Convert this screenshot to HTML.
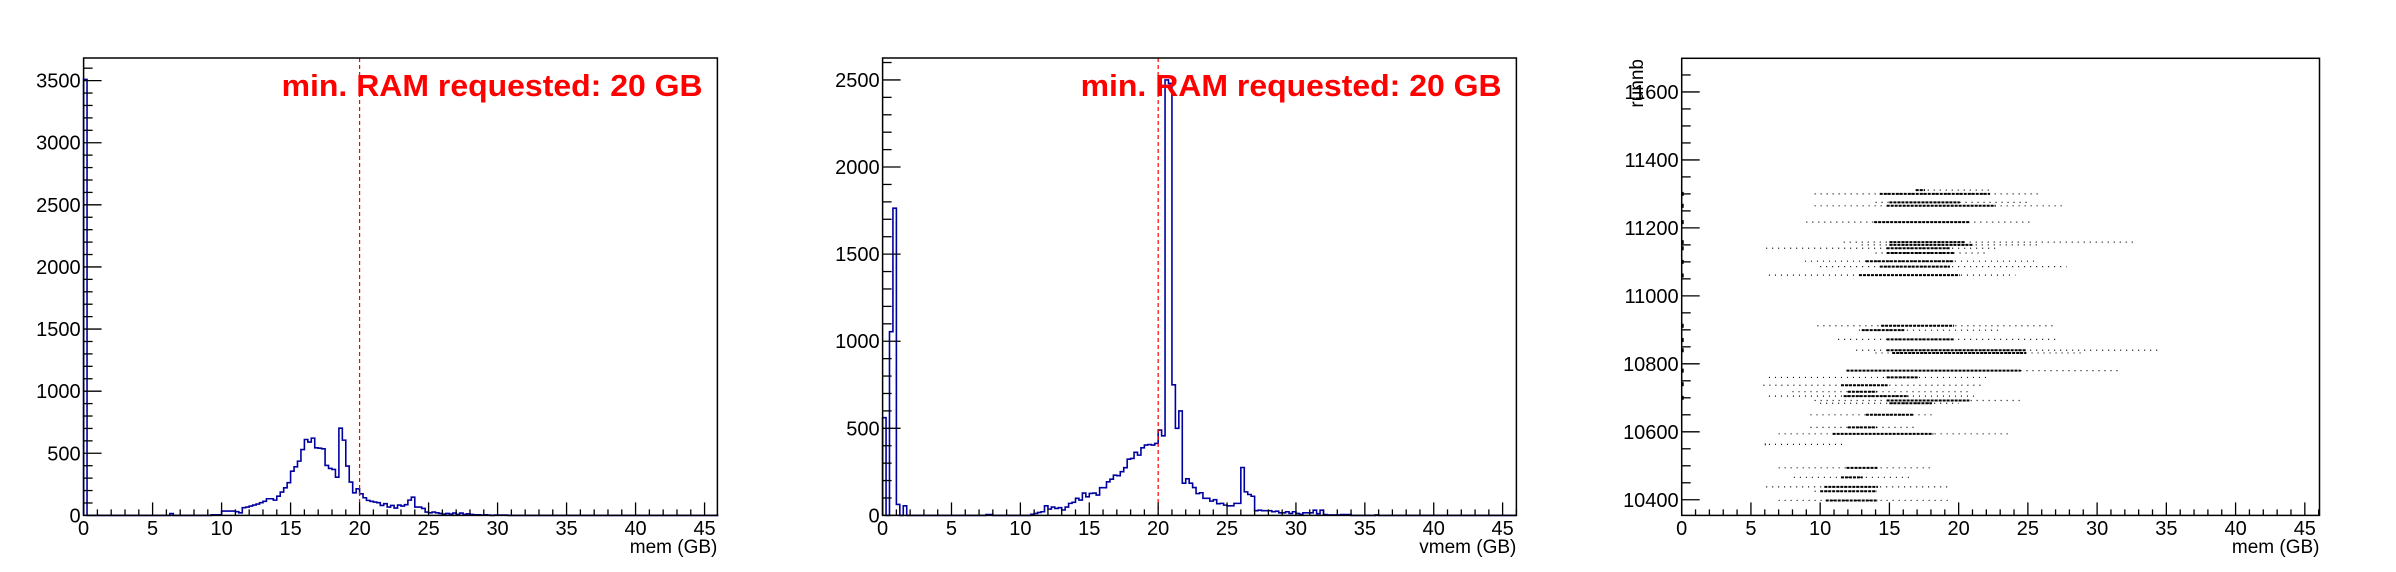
<!DOCTYPE html>
<html><head><meta charset="utf-8">
<style>
html,body{margin:0;padding:0;background:#fff;}
svg{display:block;font-family:"Liberation Sans",Arial,sans-serif;}
</style></head>
<body>
<svg id="fig" width="2396" height="572" viewBox="0 0 2396 572" xmlns="http://www.w3.org/2000/svg"></svg>
<script>
// ---- Panel 1: mem histogram (0.25 GB bins) ----
const memBinWidth = 0.25;
const memCounts = {0:3510,25:15,37:5,38:5,39:5,
40:35,41:35,42:35,43:35,44:30,45:21,46:62,47:67,48:75,49:83,50:91,51:102,52:113,53:134,54:134,55:123,56:155,57:188,58:222,59:263,
60:356,61:391,62:437,63:530,64:611,65:590,66:622,67:544,68:541,69:536,70:402,71:378,72:370,73:308,74:702,75:606,76:397,77:268,78:182,79:214,
80:174,81:142,82:121,83:113,84:107,85:102,86:80,87:94,88:67,89:80,90:59,91:83,92:75,93:86,94:123,95:147,96:67,97:67,98:56,99:27,
100:21,101:27,102:21,103:16,104:11,105:16,106:11,107:19,108:8,109:19,110:8,111:13,112:8,113:5,114:5,115:3,116:5,117:3,119:3,120:3,121:3,122:3};
// ---- Panel 2: vmem histogram ----
const vmemBinWidth = 0.25;
const vmemCounts = {0:561,2:1055,3:1764,4:63,6:55,30:5,31:5,
43:6,44:11,45:17,46:21,47:55,48:36,49:48,50:40,51:44,52:31,53:48,54:69,55:75,56:98,57:88,58:128,59:107,
60:126,61:128,62:117,63:159,64:159,65:193,66:208,67:231,68:228,69:251,70:274,71:323,72:327,73:362,74:346,75:388,76:404,77:407,78:404,79:413,
80:490,81:457,82:2500,83:2480,84:750,85:500,86:600,87:185,88:210,89:185,90:160,91:125,92:130,93:98,94:98,95:82,96:90,97:67,98:69,99:59,
100:55,101:55,102:69,103:69,104:275,105:135,106:120,107:110,108:27,109:30,110:27,111:27,112:27,113:21,114:24,115:15,116:15,117:21,118:11,119:21,
120:11,121:6,122:15,123:15,124:15,125:30,126:10,127:30,128:5,129:3,130:3,131:3,132:3,133:5,134:5,135:5,143:3};
// ---- Panel 3: runnb vs mem bands ----
const bandRuns     = [11311,11300,11275,11265,11217,11158,11150,11140,11126,11102,11086,11061,10912,10899,10872,10840,10832,10780,10760,10737,10718,10705,10692,10684,10650,10613,10594,10563,10494,10466,10438,10425,10398];
const bandDenseMin = [16.9,14.3,15.0,14.8,13.9,15.0,15.0,14.8,14.8,13.3,14.3,12.8,14.4,13.0,14.8,14.8,15.2,11.9,14.8,11.5,12.0,11.7,14.8,15.0,13.3,12.0,10.9,6.0,11.9,11.5,10.3,10.0,10.4];
const bandDenseMax = [17.5,22.2,20.0,22.6,20.7,20.4,21.0,19.3,19.6,19.6,19.3,20.0,19.6,16.0,19.6,24.8,24.8,24.4,17.0,14.8,14.0,16.3,20.7,18.0,16.7,14.0,18.1,6.0,14.1,13.0,14.1,14.0,14.1];
const bandSparseMin= [16.9,9.6,14.0,9.6,9.0,11.7,13.0,6.1,14.0,8.9,10.0,6.3,9.8,12.8,11.3,12.6,14.0,11.9,6.3,5.9,8.0,6.3,9.6,10.0,9.3,9.3,7.0,6.3,7.0,8.1,6.1,9.6,7.0];
const bandSparseMax= [22.2,26.0,25.0,27.8,25.2,32.6,26.0,23.0,22.0,25.6,27.8,24.1,27.0,23.0,27.0,34.4,29.0,31.7,22.2,21.8,21.0,21.1,24.4,20.0,18.3,17.0,23.7,11.7,18.1,16.7,19.3,14.1,19.3];
const edgeRuns = [11300,11265,11217,11158,11140,11100,11060,10912,10870,10840,10780,10740,10700];

const xTicks = [0,5,10,15,20,25,30,35,40,45];
const memYTicks = [0,500,1000,1500,2000,2500,3000,3500];
const vmemYTicks = [0,500,1000,1500,2000,2500];
const runYTicks = [10400,10600,10800,11000,11200,11400,11600];

const NS="http://www.w3.org/2000/svg";
const svg=document.getElementById('fig');
function mk(tag,attrs,parent){const e=document.createElementNS(NS,tag);for(const k in attrs)e.setAttribute(k,attrs[k]);(parent||svg).appendChild(e);return e;}

function makeAxes(p){
  const g=mk('g',{});
  
  
  p.sx=v=>p.x0+(v-p.xmin)/(p.xmax-p.xmin)*(p.x1-p.x0);
  p.sy=v=>p.y1-(v-p.ymin)/(p.ymax-p.ymin)*(p.y1-p.y0);
  p.g=g;
  return g;
}
function drawFrameAndTicks(p){
  const g=p.g;
  const ax=mk('g',{},g);
  
  
  for(let v=0;v<=p.xmax;v+=1){
    const x=p.sx(v);const major=(v%5===0);
    mk('line',{x1:x,x2:x,y1:p.y1,y2:p.y1-(major?13:6),stroke:'#000','stroke-width':1.3},ax);
  }
  xTicks.forEach(v=>{
    const t=mk('text',{x:p.sx(v),y:535,'font-size':20,'text-anchor':'middle',fill:'#000'},ax);
    t.textContent=v;
    
    
  });
  const xt=mk('text',{x:p.x1,y:553,'font-size':19,'text-anchor':'end',fill:'#000'},ax);
  xt.textContent=p.xtitle;
  
  
  const ay=mk('g',{},g);
  
  
  const start=Math.ceil(p.ymin/p.minor)*p.minor;
  for(let v=start;v<=p.ymax;v+=p.minor){
    const y=p.sy(v);const major=(Math.round(v)%p.major===0);
    mk('line',{x1:p.x0,x2:p.x0+(major?18:9),y1:y,y2:y,stroke:'#000','stroke-width':1.3},ay);
  }
  p.yticks.forEach(v=>{
    const t=mk('text',{x:p.x0-3,y:p.sy(v)+7,'font-size':20,'text-anchor':'end',fill:'#000'},ay);
    t.textContent=v;
    
    
  });
  const fr=mk('rect',{x:p.x0,y:p.y0,width:p.x1-p.x0,height:p.y1-p.y0,fill:'none',stroke:'#000','stroke-width':1.5},g);
  
  
}
function drawHist(p,counts,bw){
  const n=Math.round(p.xmax/bw);
  let d='M'+p.sx(0)+','+p.sy(0);
  for(let k=0;k<n;k++){
    const v=counts[k]||0;
    d+=' L'+p.sx(k*bw)+','+p.sy(v)+' L'+p.sx((k+1)*bw)+','+p.sy(v);
  }
  const path=mk('path',{d:d,fill:'none',stroke:'#0000a0','stroke-width':1.6},p.g);
  
  
  const rl=mk('line',{x1:p.sx(20),x2:p.sx(20),y1:p.y0,y2:p.y1,stroke:'#ff0000','stroke-width':1.2,'stroke-dasharray':'4,3'},p.g);
  
  
  const t=mk('text',{x:p.x0+198,y:96,'font-size':31,'font-weight':'bold',fill:'#ff0000',textLength:421,lengthAdjust:'spacingAndGlyphs'},p.g);
  t.textContent='min. RAM requested: 20 GB';
  
  
}

const p1={name:'mem-histogram-panel',x0:83.6,x1:717.4,y0:58,y1:515.4,xmin:0,xmax:45.93,ymin:0,ymax:3682,minor:100,major:500,yticks:memYTicks,xtitle:'mem (GB)'};
makeAxes(p1);drawHist(p1,memCounts,memBinWidth);drawFrameAndTicks(p1);

const p2={name:'vmem-histogram-panel',x0:882.6,x1:1516.4,y0:58,y1:515.4,xmin:0,xmax:46.0,ymin:0,ymax:2626,minor:100,major:500,yticks:vmemYTicks,xtitle:'vmem (GB)'};
makeAxes(p2);drawHist(p2,vmemCounts,vmemBinWidth);drawFrameAndTicks(p2);

const p3={name:'runnb-vs-mem-panel',x0:1681.7,x1:2319.5,y0:58.3,y1:515.4,xmin:0,xmax:46.06,ymin:10354,ymax:11699,minor:50,major:200,yticks:runYTicks,xtitle:'mem (GB)'};
makeAxes(p3);
bandRuns.forEach((r,i)=>{
  const y=p3.sy(r);
  const s=mk('line',{x1:p3.sx(bandSparseMin[i]),x2:p3.sx(bandSparseMax[i]),y1:y,y2:y,stroke:'#000','stroke-width':1.2,'stroke-dasharray':'1,5'},p3.g);
  
  
  const d=mk('line',{x1:p3.sx(bandDenseMin[i]),x2:p3.sx(bandDenseMax[i])+1,y1:y,y2:y,stroke:'#000','stroke-width':2,'stroke-dasharray':'3,1'},p3.g);
  
  
});
edgeRuns.forEach(r=>{
  const e=mk('rect',{x:p3.sx(0),y:p3.sy(r)-2,width:2,height:4,fill:'#000'},p3.g);
  
  
});
drawFrameAndTicks(p3);
const yt=mk('text',{x:0,y:0,'font-size':19,'text-anchor':'end',fill:'#000',transform:'translate(1643,59) rotate(-90)'},p3.g);
yt.textContent='runnb';


</script>
</body></html>
